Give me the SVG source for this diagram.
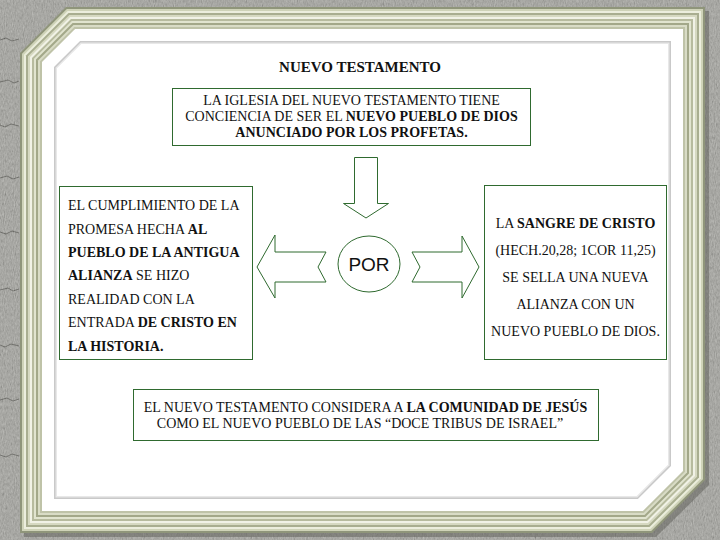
<svg xmlns="http://www.w3.org/2000/svg" width="720" height="540" viewBox="0 0 720 540">
<style>
.t{font-family:"Liberation Serif","Times New Roman",serif;font-size:14px;fill:#111}
.b{font-weight:bold}
.box{fill:#ffffff;stroke:#2f6a2f;stroke-width:1}
.arrow{fill:#ffffff;stroke:#2f6a2f;stroke-width:1;stroke-linejoin:miter}
.crack{fill:none;stroke:#2e2e2a;stroke-width:0.8;opacity:0.55}
</style>
<defs>
<filter id="stone" x="0" y="0" width="720" height="540" filterUnits="userSpaceOnUse">
<feTurbulence type="fractalNoise" baseFrequency="0.9 0.3" numOctaves="3" seed="7" result="n"/>
<feColorMatrix in="n" type="matrix" values="0.33 0.33 0.33 0 0  0.33 0.33 0.33 0 0  0.33 0.33 0.33 0 0  0 0 0 0 1"/>
</filter>
</defs>
<!-- stone background -->
<rect x="0" y="0" width="720" height="540" fill="#94948c"/>
<rect x="0" y="0" width="720" height="540" filter="url(#stone)" opacity="0.5"/>
<path class="crack" d="M0 40 L6 38 L12 41 L19 39"/>
<path class="crack" d="M0 82 L8 80 L14 83 L19 81"/>
<path class="crack" d="M0 125 L5 127 L11 124 L19 126"/>
<path class="crack" d="M0 178 L7 176 L13 179 L19 177"/>
<path class="crack" d="M0 232 L6 234 L12 231 L19 233"/>
<path class="crack" d="M0 290 L8 288 L13 291 L19 289"/>
<path class="crack" d="M0 345 L5 347 L11 344 L19 346"/>
<path class="crack" d="M0 400 L7 398 L13 401 L19 399"/>
<path class="crack" d="M0 455 L6 457 L12 454 L19 456"/>
<!-- frame shadow -->
<polygon points="24,58 70,11 709,11 709,485 656,537 24,537" fill="#5e5e58" opacity="0.5"/>
<!-- molding -->
<polygon points="20,53 66,7 705,7 705,480 652,533 20,533" fill="#8f957a"/>
<polygon points="22,53.8 66.8,9 703,9 703,479.2 651.2,531 22,531" fill="#cfd3b8"/>
<polygon points="24,54.7 67.7,11 701,11 701,478.3 650.3,529 24,529" fill="#eceedd"/>
<polygon points="26,55.5 68.5,13 699,13 699,477.5 649.5,527 26,527" fill="#a9ae90"/>
<polygon points="28,56.3 69.3,15 697,15 697,476.7 648.7,525 28,525" fill="#d6d9c1"/>
<polygon points="30,57.1 70.1,17 695,17 695,475.9 647.9,523 30,523" fill="#f1f2e6"/>
<polygon points="32,58 71,19 693,19 693,475 647,521 32,521" fill="#b7bb9e"/>
<polygon points="34,58.8 71.8,21 691,21 691,474.2 646.2,519 34,519" fill="#e1e4cf"/>
<polygon points="36,59.6 72.6,23 689,23 689,473.4 645.4,517 36,517" fill="#a3a889"/>
<polygon points="38,60.5 73.5,25 687,25 687,472.5 644.5,515 38,515" fill="#d9dcc6"/>
<polygon points="40,61.3 74.3,27 685,27 685,471.7 643.7,513 40,513" fill="#bfc3a8"/>
<polygon points="42,62.1 75.1,29 683,29 683,470.9 642.9,511 42,511" fill="#ffffff"/>
<polygon points="54,67.1 80.1,41 671,41 671,465.9 637.9,499 54,499" fill="#c9c9c9"/>
<polygon points="55.5,67.7 80.7,42.5 669.5,42.5 669.5,465.3 637.3,497.5 55.5,497.5" fill="#e8e8e8"/>
<polygon points="57,68.3 81.3,44 668,44 668,464.7 636.7,496 57,496" fill="#ffffff"/>

<g id="title">
<text class="t b" x="360" y="72" text-anchor="middle" style="font-size:15px">NUEVO TESTAMENTO</text>
</g>

<g id="box-top">
<rect class="box" x="172.5" y="88.5" width="358" height="57"/>
<text class="t" x="351.5" y="105" text-anchor="middle">LA IGLESIA DEL NUEVO TESTAMENTO TIENE</text>
<text class="t" x="351.5" y="121" text-anchor="middle">CONCIENCIA DE SER EL <tspan class="b">NUEVO PUEBLO DE DIOS</tspan></text>
<text class="t b" x="351.5" y="137" text-anchor="middle">ANUNCIADO POR LOS PROFETAS.</text>
</g>

<g id="box-left">
<rect class="box" x="59.5" y="186.5" width="193" height="173"/>
<text class="t" x="68" y="210">EL CUMPLIMIENTO DE LA</text>
<text class="t" x="68" y="234">PROMESA HECHA <tspan class="b">AL</tspan></text>
<text class="t b" x="68" y="257">PUEBLO DE LA ANTIGUA</text>
<text class="t" x="68" y="280"><tspan class="b">ALIANZA</tspan> SE HIZO</text>
<text class="t" x="68" y="304">REALIDAD CON LA</text>
<text class="t" x="68" y="327">ENTRADA <tspan class="b">DE CRISTO EN</tspan></text>
<text class="t b" x="68" y="351">LA HISTORIA.</text>
</g>

<g id="box-right">
<rect class="box" x="484.5" y="185.5" width="182" height="174"/>
<text class="t" x="575.5" y="228" text-anchor="middle">LA <tspan class="b">SANGRE DE CRISTO</tspan></text>
<text class="t" x="575.5" y="255" text-anchor="middle">(HECH.20,28; 1COR 11,25)</text>
<text class="t" x="575.5" y="282" text-anchor="middle">SE SELLA UNA NUEVA</text>
<text class="t" x="575.5" y="309" text-anchor="middle">ALIANZA CON UN</text>
<text class="t" x="575.5" y="336" text-anchor="middle">NUEVO PUEBLO DE DIOS.</text>
</g>

<g id="box-bottom">
<rect class="box" x="133.5" y="389.5" width="465" height="51"/>
<text class="t" x="365.5" y="412" text-anchor="middle">EL NUEVO TESTAMENTO CONSIDERA A <tspan class="b">LA COMUNIDAD DE JESÚS</tspan></text>
<text class="t" x="360" y="428" text-anchor="middle">COMO EL NUEVO PUEBLO DE LAS “DOCE TRIBUS DE ISRAEL”</text>
</g>

<g id="por">
<ellipse class="arrow" cx="369" cy="264" rx="31" ry="28"/>
<text x="369" y="271" text-anchor="middle" style="font-family:'Liberation Sans',Arial,sans-serif;font-size:19px;fill:#111">POR</text>
</g>

<g id="connectors">
<polygon id="arrow-down" class="arrow" points="354.5,157.5 377.5,157.5 377.5,203.5 388.5,203.5 366,218 343.5,203.5 354.5,203.5"/>
<polygon id="arrow-left" class="arrow" points="257,267 275,235 275,252 326,252 318,267 326,282 275,282 275,298"/>
<polygon id="arrow-right" class="arrow" points="412,252 462,252 462,236 479,267 462,298 462,282 412,282 420,267"/>
</g>
</svg>
